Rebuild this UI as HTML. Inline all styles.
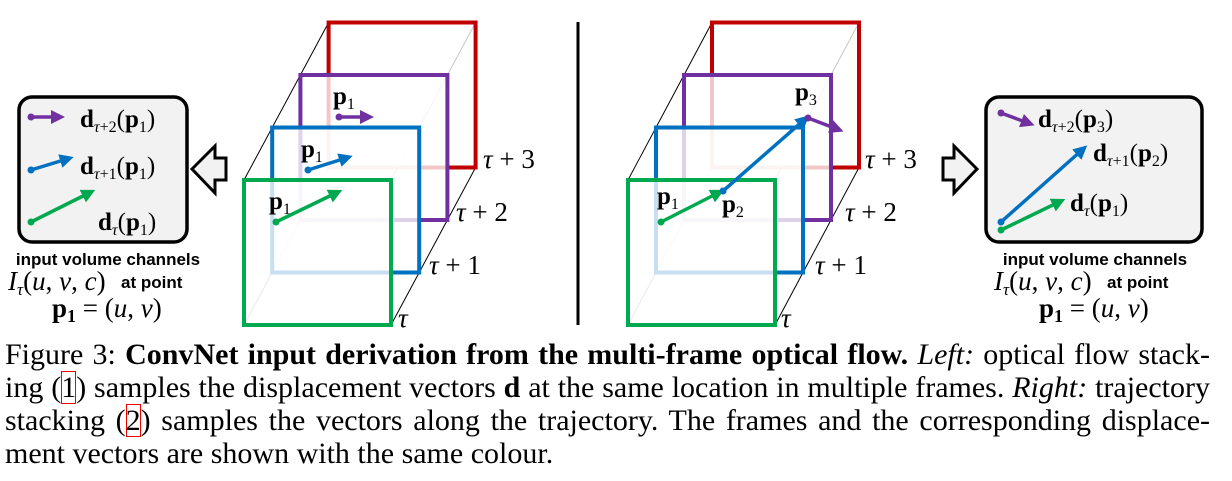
<!DOCTYPE html>
<html><head><meta charset="utf-8"><style>
body{margin:0;background:#fff;width:1232px;height:481px;overflow:hidden;position:relative}
svg{position:absolute;left:0;top:0}
.m{font-family:"Liberation Serif",serif}
.cap{position:absolute;left:5px;width:1205px;font-family:"Liberation Serif",serif;font-size:30px;line-height:33px;color:#000;white-space:nowrap}
.j{text-align:justify;text-align-last:justify;white-space:normal}
.ref{outline:1.5px solid #e00;outline-offset:-1px}
</style></head><body>
<svg width="1232" height="340" viewBox="0 0 1232 340">
<defs>
<marker id="ag" markerWidth="4" markerHeight="4" refX="2" refY="2" orient="auto" markerUnits="strokeWidth"><path d="M0,0 L4,2 L0,4 z" fill="#00a94f"/></marker>
<marker id="ab" markerWidth="4" markerHeight="4" refX="2" refY="2" orient="auto" markerUnits="strokeWidth"><path d="M0,0 L4,2 L0,4 z" fill="#0070c0"/></marker>
<marker id="ap" markerWidth="4" markerHeight="4" refX="2" refY="2" orient="auto" markerUnits="strokeWidth"><path d="M0,0 L4,2 L0,4 z" fill="#7030a0"/></marker>
</defs>
<g id="left-cube"></g>
<g id="right-cube"></g>
<line x1="578" y1="22" x2="578" y2="325" stroke="#000" stroke-width="3"/>

<rect x="19" y="97" width="168" height="145" rx="13" fill="#f2f2f2" stroke="#000" stroke-width="3.5"/>
<rect x="986" y="97" width="216" height="145" rx="13" fill="#f2f2f2" stroke="#000" stroke-width="3.5"/>
<g stroke-width="3.5" fill="none">
<line x1="31" y1="117" x2="58" y2="117" stroke="#7030a0" marker-end="url(#ap)"/>
<line x1="31" y1="170" x2="67" y2="159" stroke="#0070c0" marker-end="url(#ab)"/>
<line x1="31" y1="222" x2="89" y2="193" stroke="#00a94f" marker-end="url(#ag)"/>
<line x1="339" y1="117" x2="367" y2="117" stroke="#7030a0" marker-end="url(#ap)"/>
<line x1="308" y1="170" x2="346" y2="158" stroke="#0070c0" marker-end="url(#ab)"/>
<line x1="276" y1="222" x2="336" y2="193" stroke="#00a94f" marker-end="url(#ag)"/>
<line x1="661" y1="222" x2="718" y2="193" stroke="#00a94f" marker-end="url(#ag)"/>
<line x1="723" y1="191" x2="804" y2="120" stroke="#0070c0" marker-end="url(#ab)"/>
<line x1="808" y1="118" x2="837" y2="129" stroke="#7030a0" marker-end="url(#ap)"/>
<line x1="1001" y1="113" x2="1028" y2="123" stroke="#7030a0" marker-end="url(#ap)"/>
<line x1="1001" y1="222" x2="1082" y2="150" stroke="#0070c0" marker-end="url(#ab)"/>
<line x1="1001" y1="230" x2="1059" y2="202" stroke="#00a94f" marker-end="url(#ag)"/>
</g>
<g fill="#7030a0"><circle cx="31" cy="117" r="3.5"/><circle cx="339" cy="117" r="3.5"/><circle cx="808" cy="118" r="3.5"/><circle cx="1001" cy="113" r="3.5"/></g>
<g fill="#0070c0"><circle cx="31" cy="170" r="3.5"/><circle cx="308" cy="170" r="3.5"/><circle cx="723" cy="191" r="3.5"/><circle cx="1001" cy="222" r="3.5"/></g>
<g fill="#00a94f"><circle cx="31" cy="222" r="3.5"/><circle cx="276" cy="222" r="3.5"/><circle cx="661" cy="222" r="3.5"/><circle cx="1001" cy="230" r="3.5"/></g>

<g class="m" font-size="25">
<text x="80" y="127"><tspan font-weight="bold">d</tspan><tspan font-size="16" dy="5" font-style="italic">τ</tspan><tspan font-size="16">+2</tspan><tspan dy="-5">(</tspan><tspan font-weight="bold">p</tspan><tspan font-size="16" dy="5">1</tspan><tspan dy="-5">)</tspan></text>
<text x="80" y="174"><tspan font-weight="bold">d</tspan><tspan font-size="16" dy="5" font-style="italic">τ</tspan><tspan font-size="16">+1</tspan><tspan dy="-5">(</tspan><tspan font-weight="bold">p</tspan><tspan font-size="16" dy="5">1</tspan><tspan dy="-5">)</tspan></text>
<text x="98" y="230"><tspan font-weight="bold">d</tspan><tspan font-size="16" dy="5" font-style="italic">τ</tspan><tspan dy="-5">(</tspan><tspan font-weight="bold">p</tspan><tspan font-size="16" dy="5">1</tspan><tspan dy="-5">)</tspan></text>
<text x="333" y="104" font-weight="bold">p<tspan font-size="16" dy="5" font-weight="normal">1</tspan></text>
<text x="301" y="157" font-weight="bold">p<tspan font-size="16" dy="5" font-weight="normal">1</tspan></text>
<text x="269" y="209" font-weight="bold">p<tspan font-size="16" dy="5" font-weight="normal">1</tspan></text>
<text x="1038" y="127"><tspan font-weight="bold">d</tspan><tspan font-size="16" dy="5" font-style="italic">τ</tspan><tspan font-size="16">+2</tspan><tspan dy="-5">(</tspan><tspan font-weight="bold">p</tspan><tspan font-size="16" dy="5">3</tspan><tspan dy="-5">)</tspan></text>
<text x="1093" y="161"><tspan font-weight="bold">d</tspan><tspan font-size="16" dy="5" font-style="italic">τ</tspan><tspan font-size="16">+1</tspan><tspan dy="-5">(</tspan><tspan font-weight="bold">p</tspan><tspan font-size="16" dy="5">2</tspan><tspan dy="-5">)</tspan></text>
<text x="1070" y="211"><tspan font-weight="bold">d</tspan><tspan font-size="16" dy="5" font-style="italic">τ</tspan><tspan dy="-5">(</tspan><tspan font-weight="bold">p</tspan><tspan font-size="16" dy="5">1</tspan><tspan dy="-5">)</tspan></text>
<text x="795" y="100" font-weight="bold">p<tspan font-size="16" dy="5" font-weight="normal">3</tspan></text>
<text x="722" y="212" font-weight="bold">p<tspan font-size="16" dy="5" font-weight="normal">2</tspan></text>
<text x="657" y="204" font-weight="bold">p<tspan font-size="16" dy="5" font-weight="normal">1</tspan></text>
</g>
<g class="m" font-size="27">
<text x="483" y="168"><tspan font-style="italic">τ</tspan> + 3</text>
<text x="456" y="221"><tspan font-style="italic">τ</tspan> + 2</text>
<text x="429" y="274"><tspan font-style="italic">τ</tspan> + 1</text>
<text x="398" y="327" font-style="italic">τ</text>
<text x="865" y="168"><tspan font-style="italic">τ</tspan> + 3</text>
<text x="845" y="221"><tspan font-style="italic">τ</tspan> + 2</text>
<text x="815" y="274"><tspan font-style="italic">τ</tspan> + 1</text>
<text x="781" y="327" font-style="italic">τ</text>
</g>
<path d="M192,169 L215,146 L215,158 L226,158 L226,180 L215,180 L215,193 Z" fill="#f2f2f2" stroke="#000" stroke-width="3"/>
<path d="M977,169 L954,146 L954,158 L943,158 L943,180 L954,180 L954,193 Z" fill="#f2f2f2" stroke="#000" stroke-width="3"/>

<text x="108" y="265" text-anchor="middle" font-family="Liberation Sans,sans-serif" font-weight="bold" font-size="17">input volume channels</text>
<text x="8" y="290" class="m" font-size="27"><tspan font-style="italic">I</tspan><tspan font-size="17" dy="5" font-style="italic">τ</tspan><tspan dy="-5">(</tspan><tspan font-style="italic">u</tspan>, <tspan font-style="italic">v</tspan>, <tspan font-style="italic">c</tspan>)</text>
<text x="121" y="288" font-family="Liberation Sans,sans-serif" font-weight="bold" font-size="17">at point</text>
<text x="52" y="317" class="m" font-size="27"><tspan font-weight="bold">p</tspan><tspan font-size="18" dy="5" font-weight="bold">1</tspan><tspan dy="-5"> = (</tspan><tspan font-style="italic">u</tspan>, <tspan font-style="italic">v</tspan>)</text>

<text x="1095" y="265" text-anchor="middle" font-family="Liberation Sans,sans-serif" font-weight="bold" font-size="17">input volume channels</text>
<text x="994" y="290" class="m" font-size="27"><tspan font-style="italic">I</tspan><tspan font-size="17" dy="5" font-style="italic">τ</tspan><tspan dy="-5">(</tspan><tspan font-style="italic">u</tspan>, <tspan font-style="italic">v</tspan>, <tspan font-style="italic">c</tspan>)</text>
<text x="1107" y="288" font-family="Liberation Sans,sans-serif" font-weight="bold" font-size="17">at point</text>
<text x="1039" y="317" class="m" font-size="27"><tspan font-weight="bold">p</tspan><tspan font-size="18" dy="5" font-weight="bold">1</tspan><tspan dy="-5"> = (</tspan><tspan font-style="italic">u</tspan>, <tspan font-style="italic">v</tspan>)</text>
</svg>
<div class="cap j" style="top:338px">Figure 3: <b>ConvNet input derivation from the multi-frame optical flow.</b> <i>Left:</i> optical flow stack-</div>
<div class="cap j" style="top:371px">ing (<span class="ref">1</span>) samples the displacement vectors <b>d</b> at the same location in multiple frames. <i>Right:</i> trajectory</div>
<div class="cap j" style="top:404px">stacking (<span class="ref">2</span>) samples the vectors along the trajectory. The frames and the corresponding displace-</div>
<div class="cap" style="top:437px">ment vectors are shown with the same colour.</div>
<script>
const frameNames=['frame-tau','frame-tau-plus-1','frame-tau-plus-2','frame-tau-plus-3'];
const frameColors=['#00a94f','#0070c0','#7030a0','#c00000'];
const NS='http://www.w3.org/2000/svg';
function mk(tag,attrs){const e=document.createElementNS(NS,tag);for(const k in attrs)e.setAttribute(k,attrs[k]);return e;}
function cube(gid,x0,y0,w,h,dx,dy,side){
  const g=document.getElementById(gid);
  const c=[[0,0],[w,0],[w,h],[0,h]];
  c.forEach((p,i)=>{
    const l=mk('line',{x1:x0+p[0],y1:y0+p[1],x2:x0+p[0]+3*dx,y2:y0+p[1]+3*dy,stroke:i==3?'#999':'#000','stroke-width':1});
    
    
    g.appendChild(l);
  });
  for(let i=3;i>=0;i--){
    const r=mk('rect',{x:x0+i*dx,y:y0+i*dy,width:w,height:h,fill:'rgba(255,255,255,0.78)',stroke:frameColors[i],'stroke-width':4});
    
    
    g.appendChild(r);
  }
}
cube('left-cube',244,180,147,145,28.2,-52.5,'left');
cube('right-cube',628,180,147,145,28,-52.5,'right');
</script>
</body></html>
